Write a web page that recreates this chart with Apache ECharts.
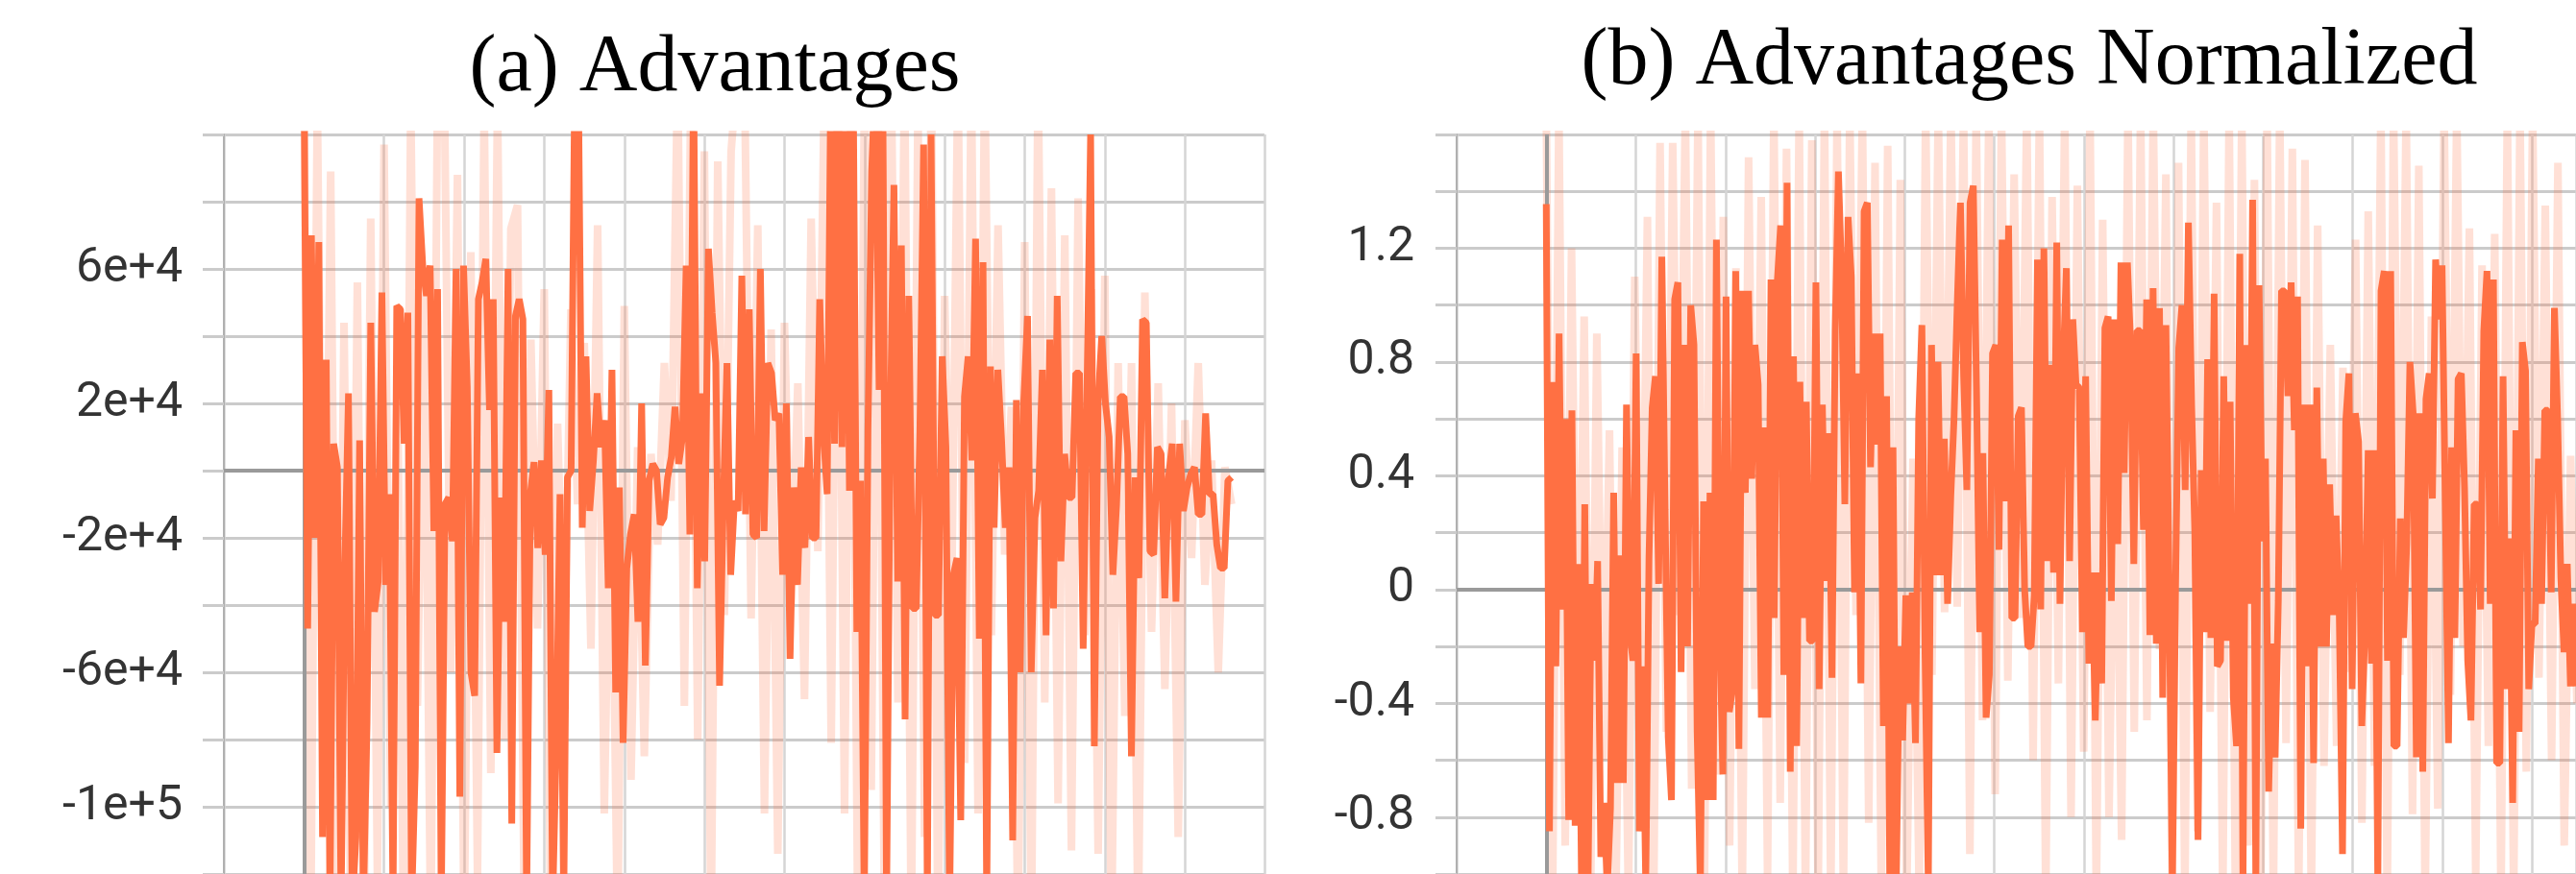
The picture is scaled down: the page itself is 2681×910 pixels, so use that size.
<!DOCTYPE html>
<html>
<head>
<meta charset="utf-8">
<script src="https://cdn.jsdelivr.net/npm/echarts@6/dist/echarts.min.js"></script>
<style>
html,body{margin:0;padding:0;background:#ffffff;}
#c{width:2681px;height:910px;}
</style>
</head>
<body>
<div id="c"></div>
<script>
// ---------------- DATA ----------------
const panelTitles = ['(a) Advantages', '(b) Advantages Normalized'];

// Panel (a): smoothed advantages (units of 1e4), read left to right
const advSmooth = [
  12, -4.7, 7.0, -2.0, 6.8, -10.9, 3.3, -13, 0.8, 0.1, -13, -2.9, 2.3, -13, -10.9, 0.9, -13, -7.5, 4.4, -4.2,
  -3.3, 5.3, -3.4, -0.7, -13, 4.9, 4.8, 0.8, 4.7, -13, -8.8, 8.1, 6.1, 5.2, 6.1, -1.8, 5.4, -13, -1.0, -0.8,
  -2.1, 6.0, -9.7, 6.1, 2.5, -6.0, -6.7, 5.1, 5.6, 6.3, 1.8, 5.1, -8.4, -0.8, -4.5, 6.0, -10.5, 4.6, 5.1,
  4.5, -13, -0.7, 0.25, -2.3, 0.3, -2.5, 2.4, -13, -8.1, -0.7, -13, -0.2, 0, 12, 11, -1.7, 3.4, -1.2, 0.3,
  2.3, 0.7, 1.5, -3.5, 3.0, -6.6, -0.5, -8.1, -2.9, -1.9, -1.3, -4.5, 2.0, -5.8, -0.3, 0.2, 0, -1.6, -1.4, -0.2,
  0.4, 1.9, 0.2, 1.0, 6.1, -1.9, 12, -3.5, 2.3, -2.7, 6.6, 4.7, 3.2, -6.4, -1.0, 3.2, -3.1, -0.9, -1.2, 5.8,
  -1.3, 4.8,
  -1.9, -2.0, 6.0, -1.8, 3.2, 2.9, 1.5, 1.7, -3.1, 2.0, -5.6, -0.5, -3.4, 0.1, -2.3, 1.0, -2.0, -2.0, 5.1, 1.1,
  -0.7, 12, 0.8, 12, 0.7, 12, -0.6, 12, -4.8, -0.3, -13, 1.2, 8.9, 12, 2.4, 12, -13, 1.2, 8.5, -3.3,
  6.7, -7.4, 5.2, -4.1, -4.1, 1.2, 9.7, -13, 10, -4.3, -4.3, 3.4, 0.7, -13, -3.1, -2.6, -10.4, 2.2, 3.4, 0.3,
  6.9, -5.0, 6.2, -13,
  3.1, -1.7, 3.0, 0.9, -1.7, 0.1, -11.0, 2.1, -6.0, 2.1, 4.6, -6.0, -1.4, -0.6, 3.0, -4.9, 3.9, -4.1, 5.2, -2.7,
  0.5, -0.8, -0.8, 2.9, 2.9, -5.3, 2.2, 10, -8.2, 2.0, 4.0, 2.0, 1.0, -3.1, -1.0, 2.2, 2.2, 0.5, -8.5, -0.2,
  -3.2, 4.5, 4.4, -2.4, -2.5, 0.7, 0.5, -3.8, -0.2, 0.8, -3.9, 0.8, -1.2, -0.5, -0.1, 0.1, -1.3, -1.3, 1.7, -0.7,
  -0.7, -2.2, -2.9, -2.9, -0.3, -0.2
];

// Panel (a): raw advantages (units of 1e4), pale line
const advRaw = [
  12, -14, 11, -9, 8.9, -14, 4.4, -13, 5.6, -14, 7.5, -12, 9.7, -10, 3, -15, 11, -7, 5.8, -14,
  11, 12, -6, 8.8, -14, 6.5, -12, 11, -9, 11, -8, 7.2,
  7.9, -13, 3.9, -4.7, 5.4, -14, 1.4, -6.0, 4.8, -1, 3.8, -5.3, 7.3, -10.2, 1.2, -14, 4.9, -9.2,
  0.7, -8.5, 0.5, -2.2, 3.2, -0.9, 12, -7.0, 12, -8, 9.5, -14, 9.2, -4.3, 9.5, 12,
  12, -4.4, 7.3, -10.2, 4.2, -11.4, 4.4, -4.0, 2.6, -6.8, 7.5, -2.4, 12, -8.1, 12, -10.2, 12, -14, 12, -9.5,
  12, -14, 12, -6.9, 12, -14, 11, -10.9, 12, -14, 5.2, -4.6, 12, -8.7, 12, -10.2,
  12, -4.9, 7.3, -2.5, 1.9, -14, 6.8, -14, 12, -6.9, 8.4, -9.9, 7.0, -11.3, 8.1, -4.9, 5.4, -11.4, 5.8, -14,
  3.2, -7.3, 3.2, -14, 5.3, -4.8, 2.6, -6.5, 2.0, -10.9, 1.5, -2.6, 3.2, -3.4, 0.3, -6.0, 0.1, -1.0
];

// Panel (b): smoothed normalized advantages
const normSmooth = [
  1.355, -0.85, 0.73, -0.27, 0.90, -0.07, 0.60, -0.81, 0.63, -0.83, 0.09, -1.05, 0.30, -1.05, 0.02,
  -0.25, 0.10, -0.94, -0.75, -1.05, -0.77, 0.34, -0.68, 0.12, -0.68, 0.65, -0.15, -0.25, 0.83, -0.85,
  -0.27, -1.05, 0.11, 0.64, 0.75, 0.02, 1.17, 0.28, -0.52, -0.74, 1.02, 1.08, -0.29, 0.86, -0.20,
  1.00, 0.86, -0.50, -1.05, 0.31, -0.74, 0.34, -0.74, 1.23, -0.10, -0.65, 1.03, -0.43, -0.35, 1.12,
  -0.56, 1.05, 0.34, 1.05, 0.39, 0.86, 0.72, -0.45, 0.57, -0.45, 1.09, -0.10, 1.09, 1.28, -0.30, 1.43, -0.64,
  0.82, -0.55, 0.73, -0.10, 0.66, -0.18, -0.18, 1.08, -0.35, 0.65, 0.03, 0.55, -0.31, 0.91, 1.47,
  1.10, 0.30, 1.31, 1.10, -0.01, 0.76, -0.33, 1.33, 1.36, 0.43, 0.90, 0.51, 0.90, -0.48, 0.68,
  -1.05, 0.50, -1.05, -0.20, -0.53, -0.02, -0.40, -0.01, -0.54, 0.60, 0.93, -0.24, -1.05, 0.86, 0.05,
  0.80, 0.05, 0.53, -0.05, 0.33, 0.60, 1.00, 1.36, 0.75, 0.35, 1.36, 1.42, 0.71, -0.15, 0.48,
  -0.45, -0.30, 0.83, 0.86, 0.14, 1.23, 0.31, 1.28, -0.10, -0.10, 0.61, 0.64, 0.00, -0.20, -0.20,
  -0.02, 1.16, -0.07, 1.20, 0.10,
  0.79, 0.06, 1.22, -0.05, 0.79, 1.13, 0.10, 0.95, 0.72, 0.71, -0.15, 0.75, -0.26, 0.06, -0.46,
  0.06, -0.33, 0.92, 0.96, -0.04, 0.95, 0.16, 1.15, 0.41, 1.15, 0.86, 0.09, 0.91, 0.91, 0.21,
  1.02, -0.16, 1.06, -0.19, 0.99, -0.38, 0.93, 0.01, -1.05, 0.01, 0.85, 1.00, 0.35, 1.29, 0.65,
  0.20, -0.88, 0.42, -0.15, 0.81, -0.17, 1.04, -0.27, -0.25, 0.75, -0.18, 0.66, -0.38, -0.55, 1.18,
  -1.05, 0.86, -0.05, 1.37, -1.05, 1.07, 0.17, 0.46, -0.71, -0.19, -0.59, -0.04, 1.05, 1.05, 0.68,
  1.08, 0.56, 1.03, -0.84, 0.65,
  -0.27, 0.65, -0.61, 0.71, -0.20, 0.46, -0.20, 0.37, -0.09, 0.26, -0.09, -0.93, 0.59, 0.76, -0.35,
  0.62, 0.52, -0.48, -0.14, 0.49, -0.26, 0.49, -1.05, 1.05, 1.12, -0.25, 1.12, -0.55, -0.55, 0.25,
  -0.17, 0.16, 0.80, 0.62, -0.59, 0.62, -0.64, 0.67, 0.76, 0.32, 1.16, 0.95, 1.14, 0.31, -0.54,
  0.50, -0.17, 0.74, 0.76, 0.36, -0.25, -0.46, 0.30, 0.30, -0.07, 0.91, 1.12, -0.05, 1.09, -0.61,
  -0.61, 0.75, -0.35, 0.18, -0.75, 0.56, -0.50, 0.87, 0.77, -0.35, -0.12, -0.12, 0.46, -0.05, 0.63,
  0.63, -0.01, 0.99, 0.60, 0.04, -0.22, 0.09, -0.34, -0.05, -0.34
];

// Panel (b): raw normalized advantages, pale line
const normRaw = [
  1.7, -1.1, 1.7, -0.9, 1.2, -0.7, 0.96, -1.1, 0.9, -0.6, 0.56, -1.1, 0.5, -1.1, 1.1, -0.4, 1.31, -1.1, 1.57, -0.5,
  1.57, -0.09, 1.7, -0.7, 1.7, -1.1, 1.7, -0.65, 1.31, -0.9, 1.13, -1.1, 1.52, -0.35, 1.38, -1.0, 1.7, -0.75, 1.55, -1.1,
  1.7, -1.1, 1.58, -1.1, 1.7, -1.1, 1.7, -1.1, 1.7, -0.09, 1.7, -0.82, 1.5, -1.1, 1.56, -1.1, 1.44, -1.1, 0.46, -1.1,
  1.7, -0.3, 1.7, -0.08, 1.7, -0.06, 1.7, -0.93, 1.7, -0.46, 1.7, -0.72, 1.7, -0.32, 1.46, -0.1, 1.7, -0.6, 1.7, -1.1,
  1.38, -0.33, 1.7, -0.8, 1.42, -0.57, 1.7, -1.1, 1.3, -0.8, 0.67, -0.88, 1.7, -0.5, 1.7, -0.46, 1.7, -0.21, 1.46, -1.1,
  1.5, -1.1, 1.7, -0.85, 1.7, -0.43, 1.36, -1.1, 1.7, -1.1, 1.7, -0.9, 1.44, -1.1, 1.7, -1.1, 1.7, -0.54, 1.55, -1.1,
  1.51, -1.1, 1.28, -0.62, 0.86, -0.55, 0.78, -0.29, 1.23, -0.82, 1.33, -0.62, 1.7, -1.1, 1.7, -0.3, 1.7, -0.79, 1.49, -1.1,
  0.96, -0.77, 1.7, -0.37, 1.7, -0.2, 1.27, -1.0, 1.14, -0.55, 1.25, -1.1, 1.7, -1.1, 1.7, -0.64, 1.7, -0.31, 1.35, -0.6,
  1.5, -0.9, 0.47, -0.4
];

// Tick labels shown on the value axes
const advTickLabels = ['6e+4', '2e+4', '-2e+4', '-6e+4', '-1e+5'];
const normTickLabels = ['1.2', '0.8', '0.4', '0', '-0.4', '-0.8'];

// Position of the last sample along the step axis (gridline units)
const LAST_STEP_A = 11.58;
const LAST_STEP_B = 11.50;

// ---------------- CHART ----------------
const ORANGE = '#ff7043';
const GRID_H = '#cbcbcb';
const GRID_V = '#d5d5d5';
const ZERO = '#9a9a9a';

function toPairs(arr, lastStep, scale) {
  const n = arr.length;
  return arr.map((v, i) => [i * lastStep / (n - 1), v * scale]);
}

function yAxisFor(gridIndex, min, max, interval, labels, fmt, margin) {
  return {
    type: 'value', gridIndex, min, max, interval,
    axisLine: { show: true, onZero: false, lineStyle: { color: '#b0b0b0', width: 2 } },
    axisTick: { show: true, inside: false, length: 22, lineStyle: { color: GRID_H, width: 3 } },
    splitLine: { show: true, lineStyle: { color: GRID_H, width: 3 } },
    axisLabel: {
      show: true, margin: margin, color: '#333333',
      fontFamily: 'Roboto', fontSize: 50,
      showMinLabel: true, showMaxLabel: true,
      formatter: function (v) {
        const s = fmt(v);
        return labels.indexOf(s) >= 0 ? s : '';
      }
    }
  };
}

function xAxisFor(gridIndex, max) {
  return {
    type: 'value', gridIndex, min: -1, max: max, interval: 1,
    axisLine: { show: false },
    axisTick: { show: false },
    axisLabel: { show: false },
    splitLine: { show: true, lineStyle: { color: GRID_V, width: 2.5 } }
  };
}

function zeroMarks() {
  return {
    silent: true, symbol: 'none', z: 3,
    label: { show: false },
    lineStyle: { color: ZERO, width: 4, type: 'solid' },
    emphasis: { disabled: true },
    data: [{ xAxis: 0 }, { yAxis: 0 }]
  };
}

function rawSeries(idx, data) {
  return {
    type: 'line', xAxisIndex: idx, yAxisIndex: idx, data: data,
    showSymbol: false, symbol: 'none', sampling: null, z: 2,
    lineStyle: { color: ORANGE, width: 8, opacity: 0.22 },
    itemStyle: { color: ORANGE },
    emphasis: { disabled: true },
    markLine: zeroMarks()
  };
}

function smoothSeries(idx, data) {
  return {
    type: 'line', xAxisIndex: idx, yAxisIndex: idx, data: data,
    showSymbol: false, symbol: 'none', sampling: null, z: 4,
    lineStyle: { color: ORANGE, width: 7, opacity: 1 },
    itemStyle: { color: ORANGE },
    emphasis: { disabled: true }
  };
}

const chart = echarts.init(document.getElementById('c'), null, { renderer: 'canvas', width: 2681, height: 910 });

const option = {
  animation: false,
  backgroundColor: '#ffffff',
  grid: [
    { left: 233, top: 140, width: 1083, height: 774, containLabel: false },
    { left: 1516, top: 140, width: 1165, height: 775, containLabel: false }
  ],
  xAxis: [xAxisFor(0, 11.99), xAxisFor(1, 11.49)],
  yAxis: [
    yAxisFor(0, -120000, 100000, 20000, advTickLabels, v => v.toExponential(), 43),
    yAxisFor(1, -1.0, 1.6, 0.2, normTickLabels, v => (Math.abs(v) < 1e-9 ? '0' : String(+v.toFixed(1))), 44)
  ],
  graphic: [
    { type: 'text', x: 744, y: 72, silent: true,
      style: { text: panelTitles[0], fill: '#000', font: '84px "Liberation Serif"', align: 'center', verticalAlign: 'middle' } },
    { type: 'text', x: 2112, y: 65, silent: true,
      style: { text: panelTitles[1], fill: '#000', font: '84px "Liberation Serif"', align: 'center', verticalAlign: 'middle' } }
  ],
  series: [
    rawSeries(0, toPairs(advRaw, LAST_STEP_A, 1e4)),
    smoothSeries(0, toPairs(advSmooth, LAST_STEP_A, 1e4)),
    rawSeries(1, toPairs(normRaw, LAST_STEP_B, 1)),
    smoothSeries(1, toPairs(normSmooth, LAST_STEP_B, 1))
  ]
};
chart.setOption(option);
</script>
</body>
</html>
